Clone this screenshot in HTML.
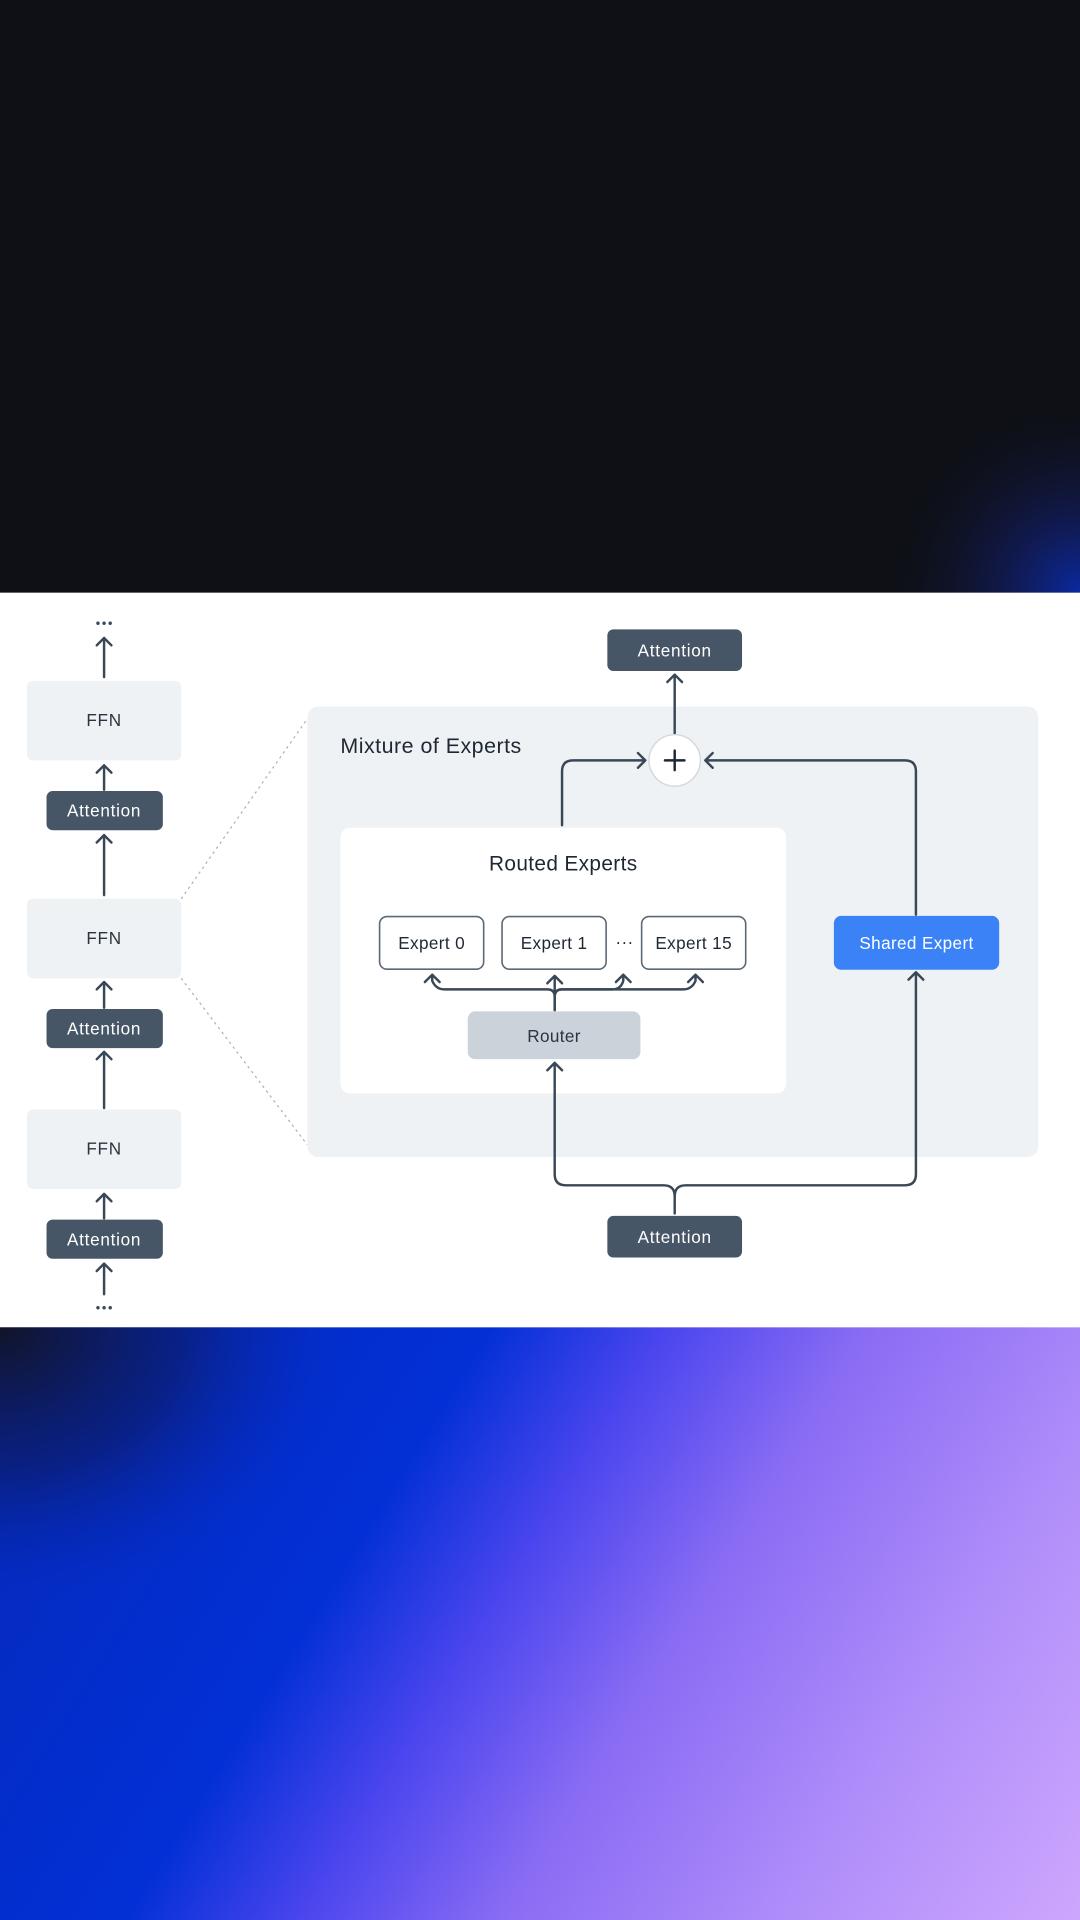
<!DOCTYPE html>
<html><head><meta charset="utf-8"><style>
html,body{margin:0;padding:0;background:#0e1015;}
svg{display:block}
text{font-family:"Liberation Sans",sans-serif;}
</style></head><body>
<svg width="1080" height="1920" viewBox="0 0 882 1568" xmlns="http://www.w3.org/2000/svg">
<defs>
<radialGradient id="glow" gradientUnits="userSpaceOnUse" cx="882" cy="484" r="170">
<stop offset="0" stop-color="#0a2cb0" stop-opacity="0.9"/>
<stop offset="0.45" stop-color="#14207a" stop-opacity="0.4"/>
<stop offset="1" stop-color="#0e1015" stop-opacity="0"/>
</radialGradient>
<linearGradient id="bg" gradientUnits="userSpaceOnUse" x1="0" y1="1084" x2="854" y2="1613">
<stop offset="0" stop-color="#0428b8"/>
<stop offset="0.34" stop-color="#0330d6"/>
<stop offset="0.46" stop-color="#4a45ee"/>
<stop offset="0.6" stop-color="#8a6cf4"/>
<stop offset="0.8" stop-color="#b08efa"/>
<stop offset="1" stop-color="#cda6fd"/>
</linearGradient>
<radialGradient id="dark" gradientUnits="userSpaceOnUse" cx="0" cy="1084" r="300" gradientTransform="translate(0 1084) scale(1 0.8) translate(0 -1084)">
<stop offset="0" stop-color="#121428" stop-opacity="1"/>
<stop offset="0.5" stop-color="#0c1a60" stop-opacity="0.6"/>
<stop offset="1" stop-color="#0330d6" stop-opacity="0"/>
</radialGradient>
</defs>
<rect x="0" y="0" width="882" height="484" fill="#0e1015"/>
<rect x="0" y="0" width="882" height="484" fill="url(#glow)"/>
<rect x="0" y="484" width="882" height="601" fill="#ffffff"/>
<rect x="0" y="1084" width="882" height="484" fill="url(#bg)"/>
<rect x="0" y="1084" width="882" height="484" fill="url(#dark)"/>

<g fill="none" stroke="#3a4856" stroke-width="2" stroke-linecap="round" stroke-linejoin="round">
<path d="M85 553V521M79 527L85 521L91 527"/>
<path d="M85 645V625M79 631L85 625L91 631"/>
<path d="M85 731V682M79 688L85 682L91 688"/>
<path d="M85 823V802M79 808L85 802L91 808"/>
<path d="M85 905V859M79 865L85 859L91 865"/>
<path d="M85 995V975M79 981L85 975L91 981"/>
<path d="M85 1057V1032M79 1038L85 1032L91 1038"/>
</g>
<g fill="#3a4856">
<circle cx="80" cy="509" r="1.4"/><circle cx="85" cy="509" r="1.4"/><circle cx="90" cy="509" r="1.4"/>
<circle cx="80" cy="1068" r="1.4"/><circle cx="85" cy="1068" r="1.4"/><circle cx="90" cy="1068" r="1.4"/>
</g>

<rect x="22" y="556" width="126" height="65" rx="5" fill="#eff2f5"/>
<rect x="22" y="734" width="126" height="65" rx="5" fill="#eff2f5"/>
<rect x="22" y="906" width="126" height="65" rx="5" fill="#eff2f5"/>
<rect x="38" y="646" width="95" height="32" rx="5" fill="#465666"/>
<rect x="38" y="824" width="95" height="32" rx="5" fill="#465666"/>
<rect x="38" y="996" width="95" height="32" rx="5" fill="#465666"/>
<g font-size="14" text-anchor="middle" letter-spacing="0.6">
<text x="85" y="593" fill="#2a3440">FFN</text>
<text x="85" y="771" fill="#2a3440">FFN</text>
<text x="85" y="943" fill="#2a3440">FFN</text>
<text x="85" y="667" fill="#ffffff">Attention</text>
<text x="85" y="845" fill="#ffffff">Attention</text>
<text x="85" y="1017" fill="#ffffff">Attention</text>
</g>

<g stroke="#a8b0b8" stroke-width="1" stroke-dasharray="2,3" fill="none">
<path d="M148 734L251 587"/>
<path d="M148 799L251 935"/>
</g>

<rect x="251" y="577" width="597" height="368" rx="9" fill="#eff2f5"/>
<text x="278" y="615" font-size="17.5" fill="#1e2833" letter-spacing="0.4">Mixture of Experts</text>
<rect x="278" y="676" width="364" height="217" rx="8" fill="#ffffff"/>
<text x="460" y="711" font-size="17" fill="#1e2833" text-anchor="middle" letter-spacing="0.3">Routed Experts</text>

<rect x="496" y="514" width="110" height="34" rx="5" fill="#465666"/>
<text x="551" y="536" font-size="14" fill="#ffffff" text-anchor="middle" letter-spacing="0.6">Attention</text>

<g fill="none" stroke="#3a4856" stroke-width="2" stroke-linecap="round" stroke-linejoin="round">
<path d="M551 599V551M545 557L551 551L557 557"/>
<path d="M459 674V630Q459 621 468 621H527M521 615L527 621L521 627"/>
<path d="M748 747V630Q748 621 739 621H576M582 615L576 621L582 627"/>
<path d="M453 825V814Q453 808 447 808H363Q356 808 353 801V796M347 802L353 796L359 802"/>
<path d="M453 825V797M447 803L453 797L459 803"/>
<path d="M453 814Q453 808 459 808H500Q507 808 509 801V796M503 802L509 796L515 802"/>
<path d="M453 814Q453 808 459 808H558Q565 808 568 801V796M562 802L568 796L574 802"/>
<path d="M551 991V977Q551 968 542 968H462Q453 968 453 959V868M447 874L453 868L459 874"/>
<path d="M551 977Q551 968 560 968H739Q748 968 748 959V794M742 800L748 794L754 800"/>
</g>

<circle cx="551" cy="621" r="21" fill="#ffffff" stroke="#d3d9df" stroke-width="1.2"/>
<path d="M543 621H559M551 613V629" stroke="#1e2833" stroke-width="2" stroke-linecap="round"/>

<g fill="#ffffff" stroke="#5b6876" stroke-width="1.3">
<rect x="310" y="748.5" width="85" height="43" rx="6"/>
<rect x="410" y="748.5" width="85" height="43" rx="6"/>
<rect x="524" y="748.5" width="85" height="43" rx="6"/>
</g>
<g font-size="14" fill="#1e2833" text-anchor="middle" letter-spacing="0.3">
<text x="352.5" y="775">Expert 0</text>
<text x="452.5" y="775">Expert 1</text>
<text x="566.5" y="775">Expert 15</text>
<text x="510" y="774">···</text>
</g>
<rect x="681" y="748" width="135" height="44" rx="6" fill="#3b82f6"/>
<text x="748.5" y="775" font-size="14" fill="#ffffff" text-anchor="middle" letter-spacing="0.3">Shared Expert</text>
<rect x="382" y="826" width="141" height="39" rx="6" fill="#cbd2da"/>
<text x="452.5" y="851" font-size="14" fill="#2a3440" text-anchor="middle" letter-spacing="0.3">Router</text>

<rect x="496" y="993" width="110" height="34" rx="5" fill="#465666"/>
<text x="551" y="1015" font-size="14" fill="#ffffff" text-anchor="middle" letter-spacing="0.6">Attention</text>
</svg>
</body></html>
